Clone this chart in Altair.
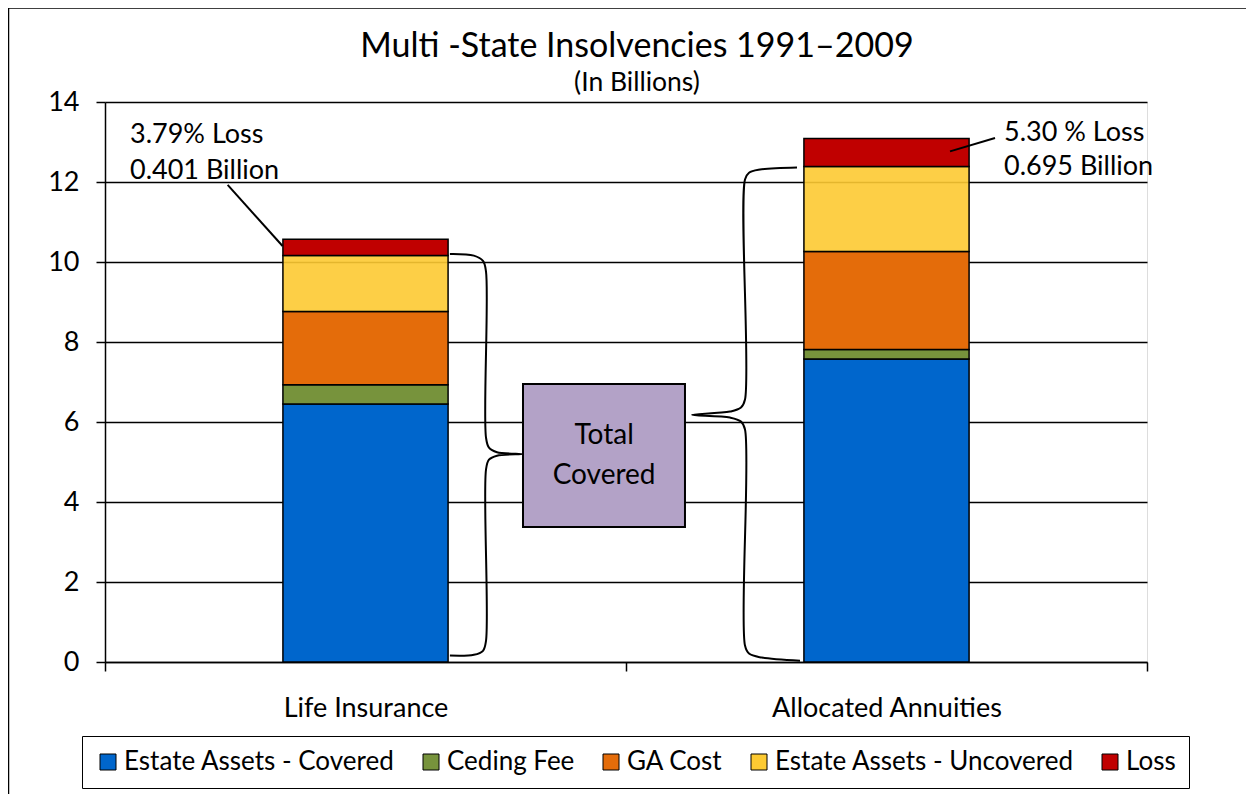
import altair as alt
import pandas as pd

# ---- data (billions) ----
categories = ["Life Insurance", "Allocated Annuities"]
components = ["Estate Assets - Covered", "Ceding Fee", "GA Cost",
              "Estate Assets - Uncovered", "Loss"]
colors = ["#0066CC", "#77933C", "#E46C0A", "#FDCA32", "#C00000"]
life_values = [6.45, 0.48, 1.835, 1.40, 0.401]
annuity_values = [7.575, 0.235, 2.455, 2.125, 0.695]

# texts
title_text = "Multi -State Insolvencies 1991–2009"
subtitle_text = "(In Billions)"
loss_labels_life = ["3.79% Loss", "0.401 Billion"]
loss_labels_ann = ["5.30 % Loss", "0.695 Billion"]
box_lines = ["Total", "Covered"]

# annotation geometry in data units (x: 0..2 across the two category slots, y: billions)
life_brace_x = [0.662, 0.708, 0.7255, 0.7313, 0.7313, 0.737, 0.7524, 0.8004,
                0.7524, 0.737, 0.7313, 0.7313, 0.7255, 0.708, 0.662]
life_brace_y = [10.2, 10.16, 10.03, 9.76, 5.61, 5.36, 5.245, 5.2,
                5.158, 5.058, 4.81, 0.53, 0.28, 0.18, 0.16]
ann_brace_x = [1.3282, 1.2572, 1.2361, 1.2284, 1.2284, 1.2207, 1.1996, 1.1267,
               1.1996, 1.2207, 1.2284, 1.2284, 1.2361, 1.261, 1.334]
ann_brace_y = [12.36, 12.31, 12.23, 12.06, 6.56, 6.36, 6.26, 6.18,
               6.11, 6.01, 5.81, 0.41, 0.21, 0.11, 0.03]
callout_x = [0.2354, 1.6219]
callout_x2 = [0.3408, 1.7083]
callout_y = [11.93, 12.765]
callout_y2 = [10.40, 13.10]
box_x, box_x2, box_y, box_y2 = 0.8023, 1.1132, 6.95, 3.375
title_pos = (1.021, 15.13)
subtitle_pos = (1.021, 14.28)

FONT = "Lato"

rows = []
for cat, vals in zip(categories, [life_values, annuity_values]):
    for i, (comp, v) in enumerate(zip(components, vals)):
        rows.append({"category": cat, "component": comp, "value": v, "idx": i})
df = pd.DataFrame(rows)

yscale = alt.Scale(domain=[0, 14], nice=False, zero=True)
y_axis = alt.Axis(title=None, values=list(range(0, 15, 2)),
                  labelFont=FONT, labelFontSize=27, labelColor="black",
                  domainColor="black", domainWidth=1.5,
                  tickColor="black", tickSize=9, tickWidth=1.5,
                  labelPadding=17, grid=True, gridColor="black",
                  gridWidth=1.3)

bars = alt.Chart(df).mark_bar(
    stroke="black", strokeWidth=1.5, width=alt.RelativeBandSize(0.317)
).encode(
    x=alt.X("category:N", sort=categories,
            scale=alt.Scale(paddingInner=0, paddingOuter=0),
            axis=alt.Axis(title=None, labelAngle=0, tickBand="extent",
                          labelFont=FONT, labelFontSize=27, labelColor="black",
                          labelLimit=500,
                          domainColor="black", domainWidth=1.5,
                          tickColor="black", tickSize=9, tickWidth=1.5,
                          labelPadding=24, grid=False)),
    y=alt.Y("value:Q", stack="zero", scale=yscale, axis=y_axis),
    color=alt.Color("component:N", sort=components,
                    scale=alt.Scale(domain=components, range=colors),
                    legend=alt.Legend(title=None, orient="none", direction="horizontal",
                                      legendX=-23, legendY=634,
                                      labelFont=FONT, labelFontSize=26,
                                      labelColor="black", labelLimit=500,
                                      symbolType="square", symbolSize=256,
                                      symbolStrokeColor="black", symbolStrokeWidth=1,
                                      columnPadding=23, labelOffset=3,
                                      strokeColor="black", padding=13)),
    fillOpacity=alt.condition(alt.datum.component == "Estate Assets - Uncovered",
                              alt.value(0.9), alt.value(1.0)),
    order=alt.Order("idx:Q", sort="ascending"),
)

xq = alt.Scale(domain=[0, 2], nice=False, zero=False)

brace_rows = []
for name, xs, ys in [("life", life_brace_x, life_brace_y), ("ann", ann_brace_x, ann_brace_y)]:
    for i, (a, b) in enumerate(zip(xs, ys)):
        brace_rows.append({"brace": name, "i": i, "bx": a, "by": b})
braces = alt.Chart(pd.DataFrame(brace_rows)).mark_line(
    color="black", strokeWidth=2, interpolate="catmull-rom"
).encode(
    x=alt.X("bx:Q", scale=xq, axis=None),
    y=alt.Y("by:Q", scale=yscale, axis=y_axis),
    detail="brace:N",
    order="i:Q",
)

callouts = alt.Chart(pd.DataFrame({"cx": callout_x, "cx2": callout_x2,
                                   "cy": callout_y, "cy2": callout_y2})).mark_rule(
    color="black", strokeWidth=2
).encode(
    x=alt.X("cx:Q", scale=xq, axis=None), x2="cx2:Q",
    y=alt.Y("cy:Q", scale=yscale, axis=y_axis), y2="cy2:Q",
)

box = alt.Chart(pd.DataFrame({"rx": [box_x], "rx2": [box_x2],
                              "ry": [box_y], "ry2": [box_y2]})).mark_rect(
    fill="#B3A2C7", stroke="black", strokeWidth=2
).encode(
    x=alt.X("rx:Q", scale=xq, axis=None), x2="rx2:Q",
    y=alt.Y("ry:Q", scale=yscale, axis=y_axis), y2="ry2:Q",
)

box_text = alt.Chart(pd.DataFrame({"t": box_lines, "tx": [0.958, 0.958],
                                   "ty": [5.64, 4.64]})).mark_text(
    font=FONT, fontSize=28, color="black", align="center", baseline="middle"
).encode(
    x=alt.X("tx:Q", scale=xq, axis=None),
    y=alt.Y("ty:Q", scale=yscale, axis=y_axis),
    text="t:N",
)

loss_text = alt.Chart(pd.DataFrame({
    "t": loss_labels_life + loss_labels_ann,
    "tx": [0.048, 0.048, 1.7255, 1.7255],
    "ty": [12.98, 12.075, 13.015, 12.165],
})).mark_text(
    font=FONT, fontSize=27, color="black", align="left", baseline="alphabetic"
).encode(
    x=alt.X("tx:Q", scale=xq, axis=None),
    y=alt.Y("ty:Q", scale=yscale, axis=y_axis),
    text="t:N",
)

title_df = pd.DataFrame({"t": [title_text, subtitle_text],
                         "tx": [title_pos[0], subtitle_pos[0]],
                         "ty": [title_pos[1], subtitle_pos[1]],
                         "fs": [34, 26.5]})
titles = alt.Chart(title_df).mark_text(
    font=FONT, color="black", align="center", baseline="alphabetic"
).encode(
    x=alt.X("tx:Q", scale=xq, axis=None),
    y=alt.Y("ty:Q", scale=yscale, axis=y_axis),
    text="t:N",
    size=alt.Size("fs:Q", scale=None, legend=None),
)

frame = alt.Chart(pd.DataFrame({"k": [0]})).mark_rule(color="black", strokeWidth=1.5).encode(
    x=alt.value(-96), x2=alt.value(1160), y=alt.value(-94)
) + alt.Chart(pd.DataFrame({"k": [0]})).mark_rule(color="black", strokeWidth=1.5).encode(
    x=alt.value(-96.5), y=alt.value(-94), y2=alt.value(700)
)

chart = alt.layer(
    bars, braces, callouts, box, box_text, loss_text, titles, frame
).resolve_scale(x="independent").properties(
    width=1042, height=560,
    autosize=alt.AutoSizeParams(type="none"),
    padding={"left": 97, "top": 94, "right": 99, "bottom": 132},
).configure_view(stroke=None).configure(background="white")

chart.save("out.html", embed_options={"renderer": "svg", "actions": False})
